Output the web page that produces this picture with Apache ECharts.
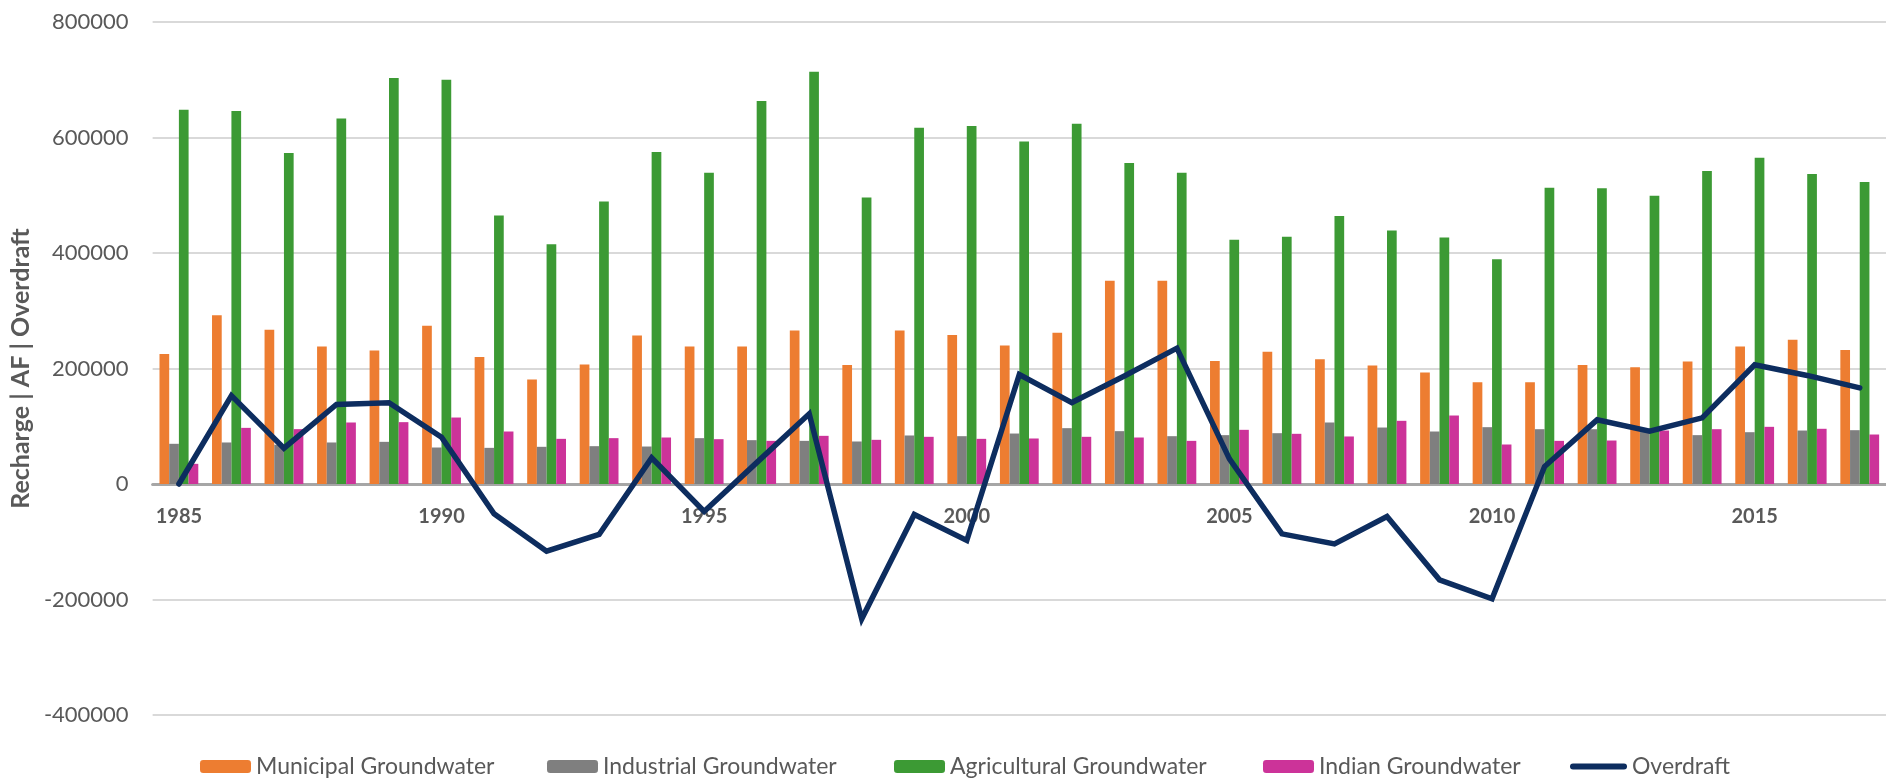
<!DOCTYPE html>
<html>
<head>
<meta charset="utf-8">
<script src="https://cdn.jsdelivr.net/npm/echarts@6/dist/echarts.min.js"></script>
<style>
	html, body { margin: 0; padding: 0; background: #fff; }
	#chart_recharge { width: 1886px; height: 779px; }
</style>
</head>
<body>
<div id="chart_recharge"></div>
<script>
	var years = ['1985', '1986', '1987', '1988', '1989', '1990', '1991', '1992', '1993', '1994',
		'1995', '1996', '1997', '1998', '1999', '2000', '2001', '2002', '2003', '2004',
		'2005', '2006', '2007', '2008', '2009', '2010', '2011', '2012', '2013', '2014',
		'2015', '2016', '2017'];

	var municipal = [225000, 292000, 267000, 238000, 231000, 274000, 220000, 181000, 207000, 257000,
		238000, 238000, 266000, 206000, 266000, 258000, 240000, 262000, 352000, 352000,
		213000, 229000, 216000, 205000, 193000, 176000, 176000, 206000, 202000, 212000,
		238000, 250000, 232000];

	var industrial = [69600, 71900, 68000, 71900, 73000, 63200, 62600, 64400, 65500, 64900,
		79400, 75900, 74700, 73600, 84000, 82800, 87400, 96700, 91500, 82800,
		84600, 88000, 106500, 97800, 90900, 98400, 94900, 94900, 91500, 84600,
		89700, 92600, 93200];

	var agricultural = [648000, 646000, 573000, 633000, 703000, 700000, 465000, 415000, 489000, 575000,
		539000, 663000, 714000, 496000, 617000, 620000, 593000, 624000, 556000, 539000,
		423000, 428000, 464000, 439000, 427000, 389000, 513000, 512000, 499000, 542000,
		565000, 537000, 523000];

	var indian = [34900, 97200, 95000, 106500, 107100, 115100, 90900, 78200, 79400, 80500,
		77600, 74700, 83400, 76500, 81700, 78200, 78800, 81700, 80500, 74700,
		93800, 86900, 82300, 109400, 118600, 68400, 74700, 75300, 92600, 94900,
		99000, 95600, 85700];

	var overdraft = [0, 153000, 62000, 137700, 140600, 81000, -51600, -116300, -87400, 45300,
		-47600, 37000, 121500, -233500, -52800, -97800, 189600, 141000, 187000, 235200,
		43600, -86300, -103600, -56300, -165900, -198800, 30300, 111100, 91400, 114600,
		206400, 188000, 166500];

	var seriesNames = ['Municipal Groundwater', 'Industrial Groundwater', 'Agricultural Groundwater',
		'Indian Groundwater', 'Overdraft'];

	var textColor = '#595959';
	var fontFamily = 'Lato, "Open Sans", sans-serif';
	var lineColor = '#0D2D5F';

	function barSeries(name, color, data) {
		return {
			name: name,
			type: 'bar',
			barWidth: 9.7,
			barGap: '0%',
			itemStyle: {
				color: color
			},
			data: data
		};
	}

	// one legend per item so each sits where the original puts it
	var legendLeft = [200, 547, 894, 1263, 1570];
	var legends = seriesNames.map(function(name, i) {
		var isLine = name === 'Overdraft';
		return {
			left: legendLeft[i],
			top: 755,
			padding: 0,
			itemWidth: isLine ? 57 : 51,
			itemHeight: isLine ? 6 : 13,
			textStyle: {
				color: textColor,
				fontSize: 23,
				fontFamily: fontFamily
			},
			data: [isLine ? {
				name: name,
				icon: 'path://M3,0 L54,0 A3,3 0 0 1 54,6 L3,6 A3,3 0 0 1 3,0 Z',
				itemStyle: { color: lineColor }
			} : name]
		};
	});

	var option = {
		animation: false,
		textStyle: {
			fontFamily: fontFamily
		},
		grid: {
			left: 147,
			top: 22,
			width: 1742,
			height: 693
		},
		legend: legends,
		xAxis: {
			type: 'category',
			data: years,
			position: 'bottom',
			offset: -231,
			axisTick: {
				show: false
			},
			axisLine: {
				onZero: false,
				lineStyle: {
					color: '#A6A6A6',
					width: 3
				}
			},
			axisLabel: {
				interval: 4,
				margin: 23,
				color: textColor,
				fontSize: 20,
				fontWeight: 'bold',
				fontFamily: fontFamily
			}
		},
		yAxis: {
			type: 'value',
			min: -400000,
			max: 800000,
			interval: 200000,
			name: 'Recharge | AF | Overdraft',
			nameLocation: 'middle',
			nameGap: 112,
			nameTextStyle: {
				color: textColor,
				fontSize: 25,
				fontWeight: 'bold',
				fontFamily: fontFamily
			},
			axisLine: {
				show: false
			},
			axisTick: {
				show: false
			},
			axisLabel: {
				margin: 24,
				color: textColor,
				fontSize: 22,
				fontFamily: fontFamily,
				formatter: function(v) {
					return String(v);
				}
			},
			splitLine: {
				lineStyle: {
					color: '#D9D9D9',
					width: 2
				}
			}
		},
		series: [
			barSeries(seriesNames[0], '#ED7D31', municipal),
			barSeries(seriesNames[1], '#7F7F7F', industrial),
			barSeries(seriesNames[2], '#3C9A34', agricultural),
			barSeries(seriesNames[3], '#CC3399', indian),
			{
				name: seriesNames[4],
				type: 'line',
				symbol: 'none',
				showSymbol: false,
				z: 5,
				itemStyle: {
					color: lineColor
				},
				lineStyle: {
					color: lineColor,
					width: 5.5,
					cap: 'round',
					join: 'miter'
				},
				data: overdraft
			}
		]
	};

	var myChart = echarts.init(document.getElementById('chart_recharge'));
	myChart.setOption(option);
</script>
</body>
</html>
